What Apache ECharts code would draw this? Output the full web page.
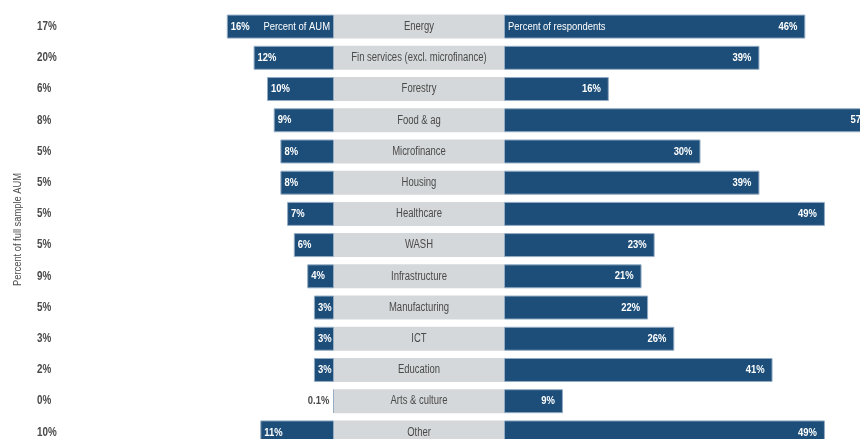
<!DOCTYPE html>
<html>
<head>
<meta charset="utf-8">
<script src="https://cdn.jsdelivr.net/npm/echarts@6/dist/echarts.min.js"></script>
<style>
  html, body { margin: 0; padding: 0; background: #fff; }
  #chart { width: 860px; height: 439px; }
</style>
</head>
<body>
<div id="chart"></div>
<script>
// Sectors, top to bottom
const sectors = [
  'Energy', 'Fin services (excl. microfinance)', 'Forestry', 'Food & ag',
  'Microfinance', 'Housing', 'Healthcare', 'WASH', 'Infrastructure',
  'Manufacturing', 'ICT', 'Education', 'Arts & culture', 'Other'
];
// Share of the full sample AUM (left column)
const fullSampleAum = [17, 20, 6, 8, 5, 5, 5, 5, 9, 5, 3, 2, 0, 10];
// Percent of AUM allocated to each sector (left bars)
const pctAum = [16, 12, 10, 9, 8, 8, 7, 6, 4, 3, 3, 3, 0.1, 11];
// Percent of respondents active in each sector (right bars)
const pctRespondents = [46, 39, 16, 57, 30, 39, 49, 23, 21, 22, 26, 41, 9, 49];

const FONT = "'Liberation Sans', Arial, sans-serif";
const SX = 0.82;            // horizontal squeeze for a condensed look
const BLUE = '#1d4e79';
const EDGE = '#93acc4';
const GREY = '#d5d8da';
const TEXT = '#4a4a4a';

const GRID_TOP = 11, ROWS_H = 437, BAR_W = 24;
const fmt = v => v + '%';

const chart = echarts.init(document.getElementById('chart'), null, { renderer: 'canvas' });

// condensed text element for custom label series
function txt(x, y, text, opt) {
  return {
    type: 'text', x, y, scaleX: opt.sx || SX, rotation: opt.rotation || 0, silent: true,
    style: {
      text, x: 0, y: 0, fill: opt.fill, align: opt.align, verticalAlign: 'middle',
      fontSize: opt.size || 11.5, fontFamily: FONT, fontWeight: opt.weight || 'normal'
    }
  };
}

const hiddenCat = (gridIndex) => ({
  type: 'category', gridIndex, data: sectors, inverse: true,
  axisLine: { show: false }, axisTick: { show: false }, axisLabel: { show: false },
  splitLine: { show: false }
});

const gridBase = { top: GRID_TOP, height: ROWS_H, outerBoundsMode: 'none', containLabel: false };

const option = {
  animation: false,
  textStyle: { fontFamily: FONT },
  grid: [
    Object.assign({ left: 37, width: 20 }, gridBase),    // full-sample column
    Object.assign({ left: 200, width: 134 }, gridBase),  // percent of AUM
    Object.assign({ left: 334, width: 170 }, gridBase),  // sector names
    Object.assign({ left: 504, width: 393 }, gridBase)   // percent of respondents
  ],
  xAxis: [
    { type: 'value', gridIndex: 0, show: false, min: 0, max: 1 },
    { type: 'value', gridIndex: 1, show: false, min: 0, max: 20, inverse: true },
    { type: 'value', gridIndex: 2, show: false, min: 0, max: 1 },
    { type: 'value', gridIndex: 3, show: false, min: 0, max: 60 }
  ],
  yAxis: [hiddenCat(0), hiddenCat(1), hiddenCat(2), hiddenCat(3)],
  series: [
    // left column: share of full sample AUM, with its rotated title
    {
      type: 'custom', xAxisIndex: 0, yAxisIndex: 0, z: 3,
      data: fullSampleAum.map((v, i) => [0, i, v]),
      encode: { x: 0, y: 1 },
      renderItem(params, api) {
        const i = params.dataIndex;
        const p = api.coord([0, i]);
        const kids = [txt(p[0], p[1], fmt(fullSampleAum[i]), { fill: TEXT, align: 'left', weight: 'bold', size: 12 })];
        if (i === 0) {
          const n = sectors.length;
          const a = api.coord([0, n / 2 - 1]), b = api.coord([0, n / 2]);
          kids.push(txt(a[0] - 19, (a[1] + b[1]) / 2, 'Percent of full sample AUM',
            { fill: TEXT, align: 'center', rotation: Math.PI / 2, sx: 0.81 }));
        }
        return { type: 'group', children: kids };
      }
    },
    // percent of AUM bars
    {
      type: 'bar', xAxisIndex: 1, yAxisIndex: 1, barWidth: BAR_W,
      data: pctAum,
      itemStyle: { color: BLUE, borderColor: EDGE, borderWidth: 1 }
    },
    {
      type: 'custom', xAxisIndex: 1, yAxisIndex: 1, z: 3,
      data: pctAum.map((v, i) => [v, i]),
      encode: { x: 0, y: 1 },
      renderItem(params, api) {
        const i = params.dataIndex, v = pctAum[i];
        const end = api.coord([v, i]), base = api.coord([0, i]);
        const kids = [];
        if (v < 1) {
          kids.push(txt(end[0] - 4, end[1], fmt(v), { fill: TEXT, align: 'right', weight: 'bold' }));
        } else {
          kids.push(txt(end[0] + 4, end[1], fmt(v), { fill: '#fff', align: 'left', weight: 'bold' }));
        }
        if (i === 0) {
          kids.push(txt(base[0] - 4, base[1], 'Percent of AUM', { fill: '#fff', align: 'right' }));
        }
        return { type: 'group', children: kids };
      }
    },
    // sector name cells
    {
      type: 'bar', xAxisIndex: 2, yAxisIndex: 2, barWidth: BAR_W,
      data: sectors.map(() => 1),
      itemStyle: { color: GREY }
    },
    {
      type: 'custom', xAxisIndex: 2, yAxisIndex: 2, z: 3,
      data: sectors.map((s, i) => [0.5, i]),
      encode: { x: 0, y: 1 },
      renderItem(params, api) {
        const p = api.coord([0.5, params.dataIndex]);
        return txt(p[0], p[1], sectors[params.dataIndex], { fill: TEXT, align: 'center', size: 12, sx: 0.79 });
      }
    },
    // percent of respondents bars
    {
      type: 'bar', xAxisIndex: 3, yAxisIndex: 3, barWidth: BAR_W,
      data: pctRespondents,
      itemStyle: { color: BLUE, borderColor: EDGE, borderWidth: 1 }
    },
    {
      type: 'custom', xAxisIndex: 3, yAxisIndex: 3, z: 3,
      data: pctRespondents.map((v, i) => [v, i]),
      encode: { x: 0, y: 1 },
      renderItem(params, api) {
        const i = params.dataIndex, v = pctRespondents[i];
        const end = api.coord([v, i]), base = api.coord([0, i]);
        const kids = [txt(end[0] - 8, end[1], fmt(v), { fill: '#fff', align: 'right', weight: 'bold' })];
        if (i === 0) {
          kids.push(txt(base[0] + 4, base[1], 'Percent of respondents', { fill: '#fff', align: 'left' }));
        }
        return { type: 'group', children: kids };
      }
    }
  ]
};

chart.setOption(option);
</script>
</body>
</html>
